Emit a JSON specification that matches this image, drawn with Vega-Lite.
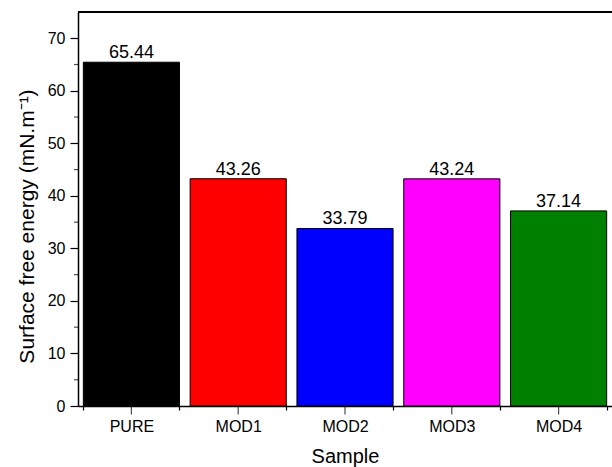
{
  "$schema": "https://vega.github.io/schema/vega-lite/v6.json",
  "width": 534,
  "height": 394,
  "autosize": "none",
  "padding": {"left": 78, "top": 12, "right": 0, "bottom": 61},
  "background": "white",
  "config": {
    "view": {"stroke": null},
    "font": "Liberation Sans",
    "axis": {"labelFont": "Liberation Sans", "titleFont": "Liberation Sans", "labelColor": "black", "titleColor": "black", "tickColor": "black", "domainColor": "black", "titleFontWeight": "normal", "grid": false}
  },
  "datasets": {
    "bars": [
      {"Sample": "PURE", "value": 65.44},
      {"Sample": "MOD1", "value": 43.26},
      {"Sample": "MOD2", "value": 33.79},
      {"Sample": "MOD3", "value": 43.24},
      {"Sample": "MOD4", "value": 37.14}
    ],
    "minor": [
      {"value": 5}, {"value": 15}, {"value": 25}, {"value": 35},
      {"value": 45}, {"value": 55}, {"value": 65}
    ]
  },
  "data": {"name": "bars"},
  "layer": [
    {
      "mark": {"type": "bar", "stroke": "black", "strokeWidth": 1},
      "encoding": {
        "x": {
          "field": "Sample", "type": "nominal", "sort": null,
          "scale": {"paddingInner": 0.1, "paddingOuter": 0.05},
          "axis": {"tickBand": "extent", "labelAngle": 0, "labelFontSize": 16, "tickSize": 4, "tickWidth": 1.2, "labelPadding": 8, "domainWidth": 1.5, "title": "Sample", "titleFontSize": 20, "titlePadding": 12}
        },
        "y": {
          "field": "value", "type": "quantitative",
          "scale": {"domain": [0, 75], "nice": false},
          "axis": {
            "values": [0, 10, 20, 30, 40, 50, 60, 70],
            "tickSize": 8,
            "labelFontSize": 16, "tickWidth": 1.2, "labelPadding": 5, "domainWidth": 1.5,
            "title": "Surface free energy (mN.m⁻¹)", "titleFontSize": 21, "titlePadding": 10, "titleY": 214
          }
        },
        "color": {
          "field": "Sample", "type": "nominal",
          "scale": {"domain": ["PURE", "MOD1", "MOD2", "MOD3", "MOD4"], "range": ["#000000", "#ff0000", "#0000ff", "#ff00ff", "#008000"]},
          "legend": null
        }
      }
    },
    {
      "mark": {"type": "text", "dy": -4, "baseline": "alphabetic", "fontSize": 18, "color": "black"},
      "encoding": {
        "x": {"field": "Sample", "type": "nominal", "sort": null},
        "y": {"field": "value", "type": "quantitative"},
        "text": {"field": "value", "type": "quantitative", "format": ".2f"}
      }
    },
    {
      "mark": {"type": "tick", "orient": "vertical", "color": "black", "size": 8, "thickness": 1.2, "yOffset": 4.5, "clip": false},
      "encoding": {
        "x": {"field": "Sample", "type": "nominal", "sort": null},
        "y": {"value": 394}
      }
    },
    {
      "data": {"name": "minor"},
      "mark": {"type": "tick", "orient": "horizontal", "color": "black", "size": 4, "thickness": 1.2, "xOffset": -2, "clip": false},
      "encoding": {
        "x": {"value": 0},
        "y": {"field": "value", "type": "quantitative"}
      }
    },
    {
      "mark": {"type": "rule", "color": "black", "strokeWidth": 1.5},
      "encoding": {"x": {"value": 0}, "x2": {"value": 534}, "y": {"value": 0}}
    }
  ]
}
